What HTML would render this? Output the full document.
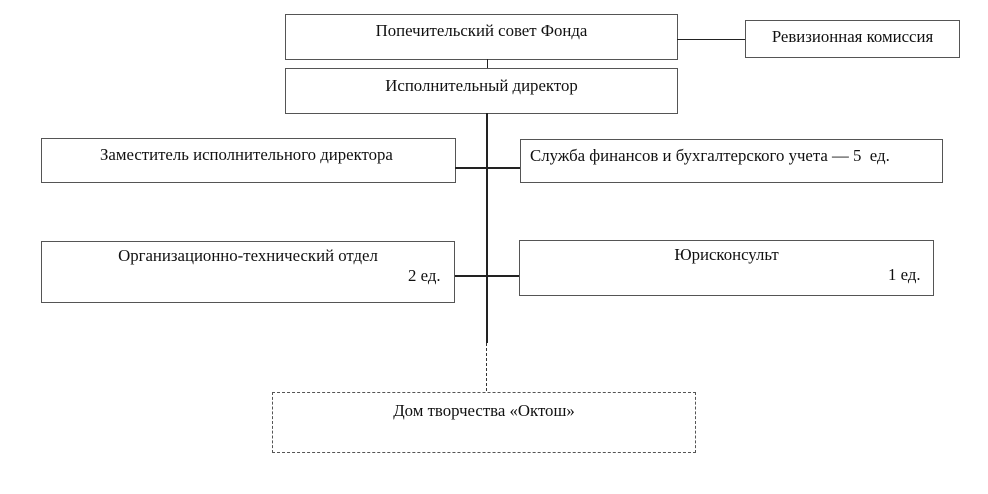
<!DOCTYPE html>
<html><head><meta charset="utf-8"><style>
body{margin:0;width:988px;height:494px;background:#fff;position:relative;overflow:hidden;font-family:"Liberation Serif",serif;font-size:16.8px;color:#111}
.b{position:absolute;border:1px solid #555;box-sizing:border-box}
.t{position:absolute;white-space:nowrap;line-height:19px}
.l{position:absolute;background:#222}
</style></head><body>
<div class="b" style="left:285px;top:14px;width:393px;height:46px"></div>
<div class="t" style="left:285px;width:393px;text-align:center;top:21px">Попечительский совет Фонда</div>
<div class="b" style="left:745px;top:20px;width:215px;height:38px"></div>
<div class="t" style="left:745px;width:215px;text-align:center;top:27px">Ревизионная комиссия</div>
<div class="l" style="left:677px;top:39px;width:68px;height:1px"></div>
<div class="l" style="left:487px;top:59px;width:1px;height:10px"></div>
<div class="b" style="left:285px;top:68px;width:393px;height:46px"></div>
<div class="t" style="left:285px;width:393px;text-align:center;top:76px">Исполнительный директор</div>
<div class="l" style="left:486px;top:113px;width:1.5px;height:230px"></div>
<div style="position:absolute;left:486px;top:343px;height:48px;border-left:1.5px dashed #333"></div>
<div class="b" style="left:41px;top:138px;width:415px;height:45px"></div>
<div class="t" style="left:100px;top:145px">Заместитель исполнительного директора</div>
<div class="b" style="left:520px;top:139px;width:423px;height:44px"></div>
<div class="t" style="left:530px;top:146px">Служба финансов и бухгалтерского учета — 5&nbsp; ед.</div>
<div class="l" style="left:455px;top:167px;width:65px;height:1.5px"></div>
<div class="b" style="left:41px;top:241px;width:414px;height:62px"></div>
<div class="t" style="left:41px;width:414px;text-align:center;top:246px">Организационно-технический отдел</div>
<div class="t" style="left:408px;top:266px">2 ед.</div>
<div class="b" style="left:519px;top:240px;width:415px;height:56px"></div>
<div class="t" style="left:519px;width:415px;text-align:center;top:245px">Юрисконсульт</div>
<div class="t" style="left:888px;top:265px">1 ед.</div>
<div class="l" style="left:455px;top:275px;width:64px;height:1.5px"></div>
<div style="position:absolute;left:272px;top:392px;width:424px;height:61px;border:1px dashed #555;box-sizing:border-box"></div>
<div class="t" style="left:272px;width:424px;text-align:center;top:401px">Дом творчества «Октош»</div>
</body></html>
